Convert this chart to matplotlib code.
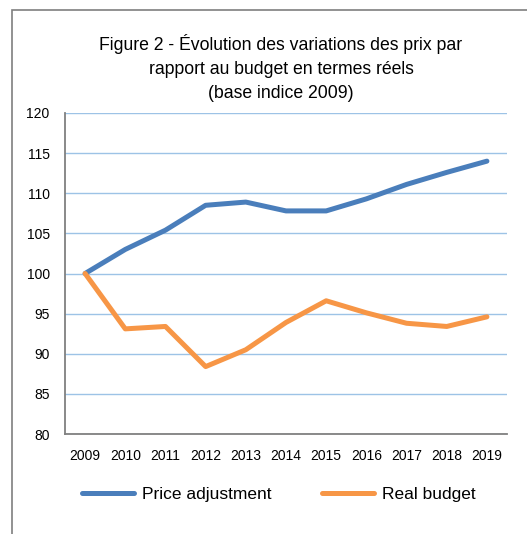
import matplotlib
matplotlib.use('Agg')
import matplotlib.pyplot as plt
from matplotlib.patches import Rectangle

years = ['2009', '2010', '2011', '2012', '2013', '2014', '2015', '2016', '2017', '2018', '2019']
price_adjustment = [100, 103.0, 105.4, 108.5, 108.9, 107.8, 107.8, 109.3, 111.1, 112.6, 114.0]
real_budget = [100, 93.1, 93.4, 88.4, 90.5, 93.9, 96.6, 95.1, 93.8, 93.4, 94.6]

plt.rcParams['font.family'] = ['Liberation Sans', 'DejaVu Sans']

fig = plt.figure(figsize=(5.27, 5.34), dpi=100)

# outer frame of the chart (runs off the right and bottom edges)
fig.patches.append(Rectangle((12 / 527, -0.05), 1.0, 1 - 10 / 534 + 0.05,
                             transform=fig.transFigure, fill=False,
                             edgecolor='#7f7f7f', linewidth=1.2))

ax = fig.add_axes([65 / 527, 1 - 434 / 534, (507 - 65) / 527, (434 - 113) / 534])
x = range(len(years))
ax.plot(x, price_adjustment, color='#4a7ebb', linewidth=3.6, label='Price adjustment',
        solid_capstyle='round', solid_joinstyle='round')
ax.plot(x, real_budget, color='#f79646', linewidth=3.6, label='Real budget',
        solid_capstyle='round', solid_joinstyle='round')

ax.set_xlim(-0.5, len(years) - 0.5)
ax.set_ylim(80, 120)
ax.set_yticks(range(80, 121, 5))
ax.set_xticks(list(x))
ax.set_xticklabels(years)
ax.tick_params(length=0, labelsize=10, colors='black')
ax.tick_params(axis='y', pad=11)
ax.tick_params(axis='x', pad=11)
ax.grid(axis='y', color='#9dc3e6', linewidth=1.0)
ax.set_axisbelow(True)
for side in ['top', 'right']:
    ax.spines[side].set_visible(False)
for side in ['left', 'bottom']:
    ax.spines[side].set_color('#808080')
    ax.spines[side].set_linewidth(1.3)

fig.text(281 / 527, 1 - 68 / 534,
         'Figure 2 - Évolution des variations des prix par\nrapport au budget en termes réels\n(base indice 2009)',
         ha='center', va='center', fontsize=12.7, linespacing=1.5)

fig.legend(loc='center', bbox_to_anchor=(279 / 527, 1 - 494 / 534), ncol=2,
           frameon=False, fontsize=12.5, handlelength=3.0, handletextpad=0.45,
           columnspacing=2.9)

plt.savefig('out.png', dpi=100)
